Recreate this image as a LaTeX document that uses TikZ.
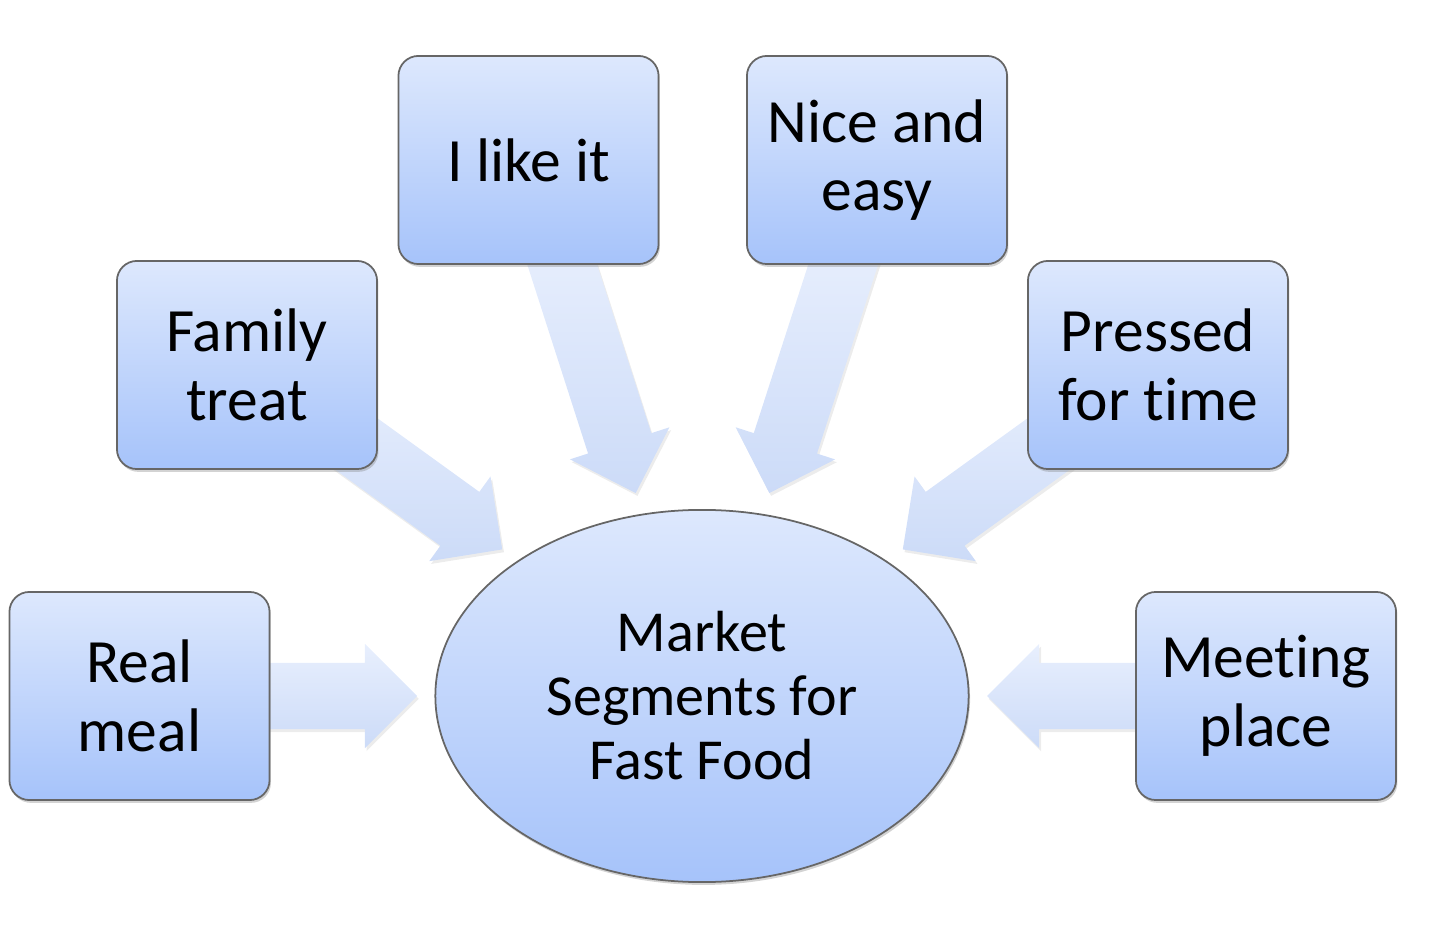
\documentclass[tikz,border=0pt]{standalone}
\usepackage{fontspec}
\setmainfont{Carlito}[Ligatures={NoCommon,NoContextual}]
\usetikzlibrary{shapes.geometric,shapes.arrows,shadows,backgrounds}

\definecolor{boxtop}{HTML}{DDE8FD}
\definecolor{boxbot}{HTML}{A6C3FA}
\definecolor{arrtop}{HTML}{E8EFFD}
\definecolor{arrbot}{HTML}{CCDBF8}

\begin{document}
\begin{tikzpicture}[x=0.01cm,y=-0.01cm,
    segbox/.style={draw=black!60,line width=0.5pt,rounded corners=0.2cm,
      top color=boxtop,bottom color=boxbot,minimum width=2.6cm,minimum height=2.08cm,
      align=center,inner sep=0pt,font=\fontsize{17.5}{19.5}\selectfont,
      drop shadow={opacity=0.35,shadow xshift=0.4pt,shadow yshift=-0.8pt}},
    hub/.style={ellipse,draw=black!60,line width=0.5pt,top color=boxtop,bottom color=boxbot,
      minimum width=5.33cm,minimum height=3.72cm,inner sep=0pt,align=center,
      font=\fontsize{16.5}{18.2}\selectfont,
      drop shadow={opacity=0.35,shadow xshift=0.4pt,shadow yshift=-0.8pt}},
    fatarrow/.style={single arrow,top color=arrtop,bottom color=arrbot,draw=none,
      minimum height=2.6cm,inner xsep=0pt,inner ysep=0.325cm,
      single arrow head extend=0.19cm,single arrow head indent=0pt,
      anchor=tip,sloped,allow upside down,
      drop shadow={opacity=0.15,shadow xshift=0.5pt,shadow yshift=-0.8pt}}]
  \useasboundingbox (0,0) rectangle (1433,937);

  % segments round the hub
  \node[segbox] (real) at (139.5,696) {Real\\meal};
  \node[segbox] (fam) at (247,365) {Family\\treat};
  \node[segbox] (like) at (528.5,160) {I like it};
  \node[segbox] (nice) at (877,160) {Nice and\\easy};
  \node[segbox] (press) at (1158,365) {Pressed\\for time};
  \node[segbox] (meet) at (1266,696) {Meeting\\place};
  \node[hub] (hub) at (702,696) {Market\\Segments for\\Fast Food};

  % arrow tips
  \coordinate (t-real) at (418,696);
  \coordinate (t-fam) at (503,550);
  \coordinate (t-like) at (636,494);
  \coordinate (t-nice) at (769,494);
  \coordinate (t-press) at (902,550);
  \coordinate (t-meet) at (986,696);

  \begin{scope}[on background layer]
    \foreach \s in {real,fam,like,nice,press,meet}
      \path (\s) -- node[fatarrow,pos=1]{} (t-\s);
  \end{scope}
\end{tikzpicture}
\end{document}
